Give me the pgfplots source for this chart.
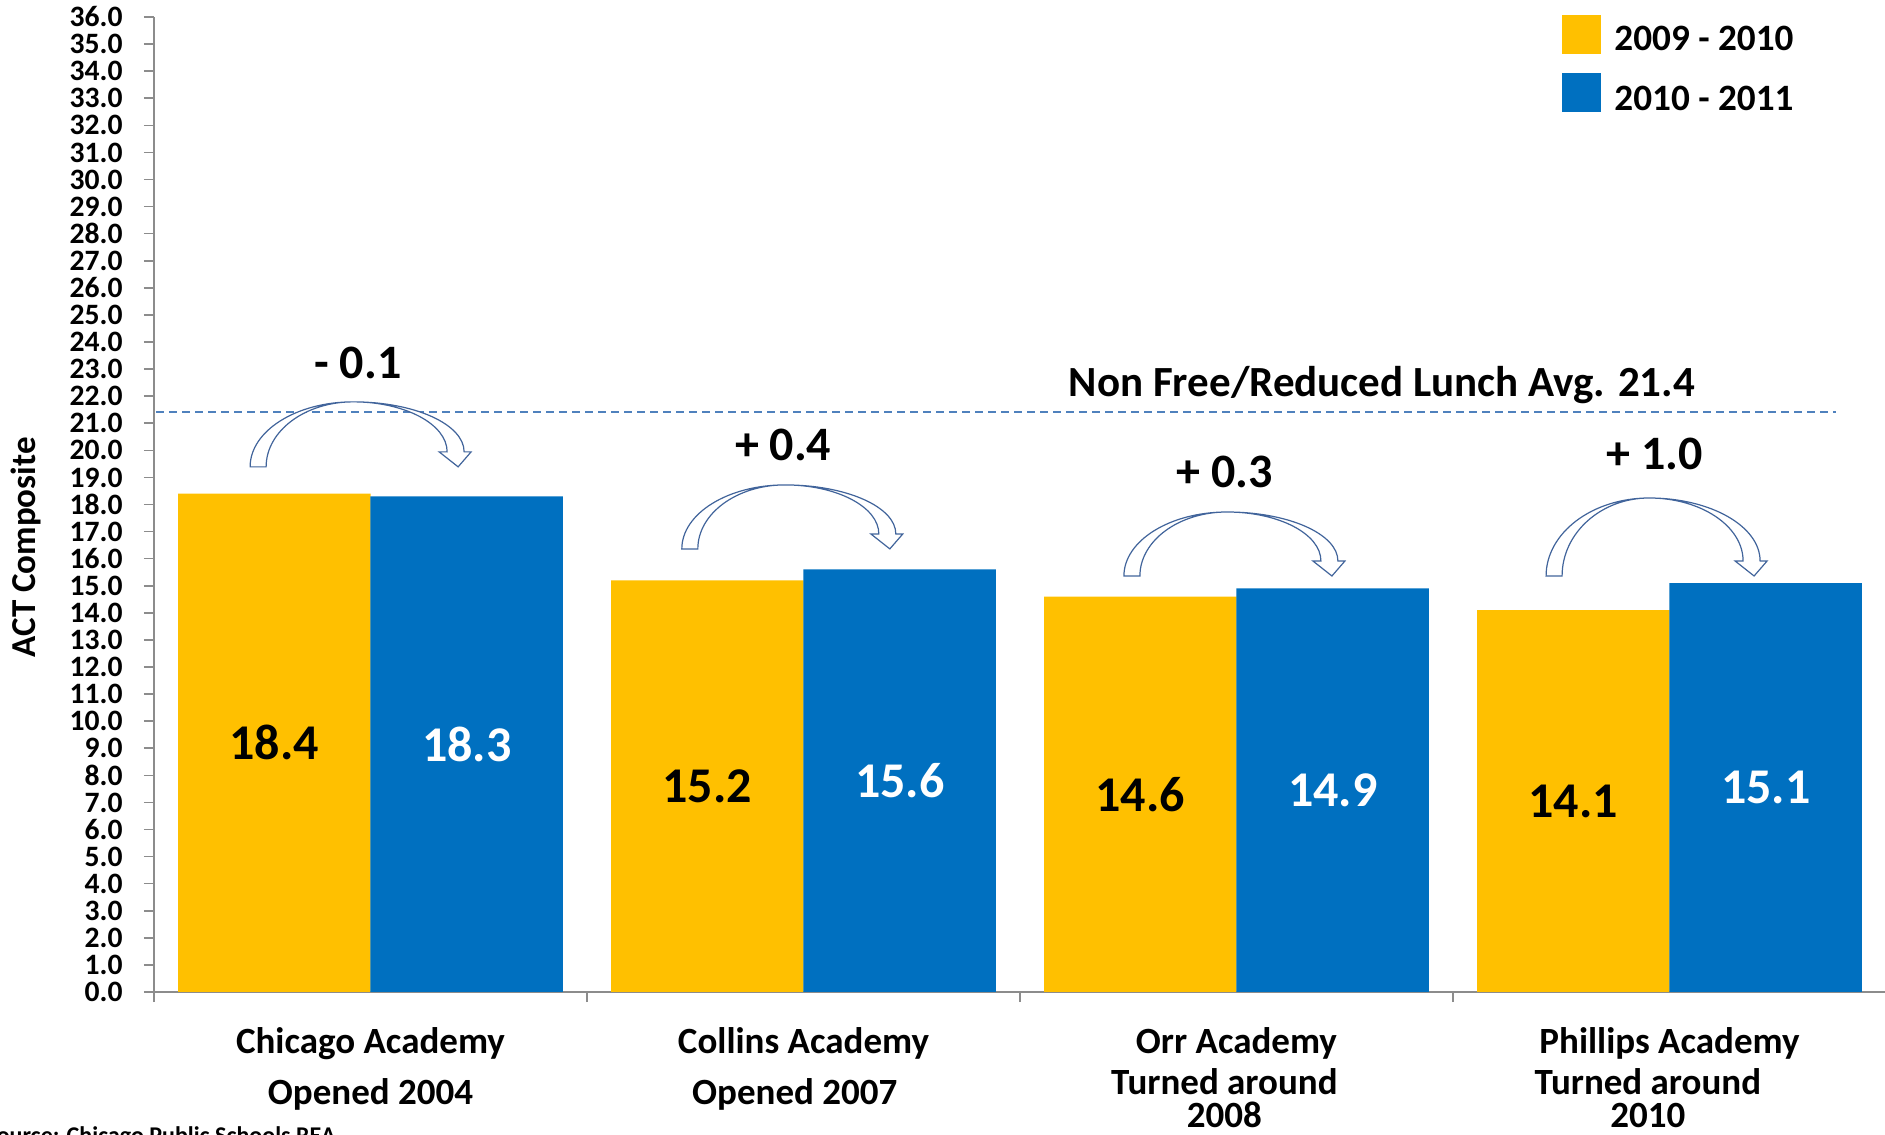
\documentclass[border=0pt]{standalone}
\usepackage{pgfplots}
\pgfplotsset{compat=1.18}
\usepackage{fontspec}
\setmainfont{Carlito}
\definecolor{cyellow}{HTML}{FFC000}
\definecolor{cblue}{HTML}{0070C0}
\definecolor{avgline}{HTML}{4F81BD}
\definecolor{arrowcol}{HTML}{41649B}
\definecolor{axisgray}{HTML}{8C8C8C}
\newcommand{\fs}[1]{\fontsize{#1}{#1}\selectfont\bfseries}
\newcommand{\curvarrow}[3]{%
  \draw[arrowcol, line width=0.6pt, fill=white, shift={(axis cs:#1,#2)}, x=0.5pt, y=0.5pt]
    (0,0) .. controls (0,{0.5523*#3}) and (46.1,#3) .. (103,#3)
    .. controls (164.3,#3) and (214,{15+0.5523*(#3-15)}) .. (214,15)
    -- (221,15) -- (208,0) -- (189,15) -- (197,15)
    .. controls (197,{15+0.5523*(#3-15)}) and (154.9,#3) .. (103,#3)
    .. controls (55,#3) and (16,{0.5523*#3}) .. (16,0) -- cycle;
}
\begin{document}
\begin{tikzpicture}
\begin{axis}[
  at={(77pt,71.5pt)}, anchor=south west,
  scale only axis, width=866pt, height=487.5pt,
  xmin=-0.5, xmax=3.5, ymin=0, ymax=36,
  axis x line*=bottom, axis y line*=left,
  axis line style={axisgray, line width=0.8pt, -},
  ytick={0,1,...,36},
  xtick={-0.5,0.5,1.5,2.5}, xticklabels={},
  tick align=outside, major tick length=5pt,
  tick style={axisgray, line width=0.8pt},
  yticklabel style={font=\fs{14.8pt}, anchor=east, inner sep=0pt, xshift=-10.5pt,
    /pgf/number format/.cd, fixed, fixed zerofill, precision=1, assume math mode=true},
  ybar, bar width=0.4445,
  clip=false,
  ylabel={ACT Composite},
  ylabel style={font=\fs{17.5pt}, at={(axis description cs:-0.074,0.456)}, anchor=center},
]
\addplot[fill=cyellow, draw=none, bar shift=-0.2222] coordinates {(0,18.4) (1,15.2) (2,14.6) (3,14.1)};
\addplot[fill=cblue, draw=none, bar shift=0.2222] coordinates {(0,18.3) (1,15.6) (2,14.9) (3,15.1)};

% value labels
\node[font=\fs{25pt}, text=black] at (axis cs:-0.2222,9.2) {18.4};
\node[font=\fs{25pt}, text=white] at (axis cs:0.2222,9.15) {18.3};
\node[font=\fs{25pt}, text=black] at (axis cs:0.7778,7.6) {15.2};
\node[font=\fs{25pt}, text=white] at (axis cs:1.2222,7.8) {15.6};
\node[font=\fs{25pt}, text=black] at (axis cs:1.7778,7.3) {14.6};
\node[font=\fs{25pt}, text=white] at (axis cs:2.2222,7.45) {14.9};
\node[font=\fs{25pt}, text=black] at (axis cs:2.7778,7.05) {14.1};
\node[font=\fs{25pt}, text=white] at (axis cs:3.2222,7.55) {15.1};

% average line
\draw[avgline, line width=1pt, dash pattern=on 4pt off 2.5pt] (axis cs:-0.495,21.4) -- (axis cs:3.385,21.4);
\node[font=\fs{21.5pt}, anchor=base, inner sep=0pt] at (axis cs:2.336,22.0) {Non Free/Reduced Lunch Avg. 21.4};

% change arrows
\curvarrow{-0.278}{19.39}{65}
\curvarrow{0.719}{16.36}{64}
\curvarrow{1.740}{15.36}{64}
\curvarrow{2.715}{15.36}{78}
\node[font=\fs{24pt}, anchor=base, inner sep=0pt] at (axis cs:-0.029,22.67) {- 0.1};
\node[font=\fs{24pt}, anchor=base, inner sep=0pt] at (axis cs:0.953,19.61) {+ 0.4};
\node[font=\fs{24pt}, anchor=base, inner sep=0pt] at (axis cs:1.973,18.61) {+ 0.3};
\node[font=\fs{24pt}, anchor=base, inner sep=0pt] at (axis cs:2.966,19.28) {+ 1.0};

% category labels
\begin{scope}[every node/.style={font=\fs{18.5pt}, anchor=base, inner sep=0pt}]
\node at (axis cs:0,-2.253) {Chicago Academy};
\node at (axis cs:0,-4.136) {Opened 2004};
\node at (axis cs:1,-2.253) {Collins Academy};
\node at (axis cs:0.98,-4.136) {Opened 2007};
\node at (axis cs:2,-2.253) {Orr Academy};
\node at (axis cs:1.972,-3.78) {Turned around};
\node at (axis cs:1.972,-5.02) {2008};
\node at (axis cs:3,-2.253) {Phillips Academy};
\node at (axis cs:2.95,-3.78) {Turned around};
\node at (axis cs:2.95,-5.02) {2010};
\end{scope}
\end{axis}

% legend
\fill[cyellow] (781pt,540.5pt) rectangle (800.5pt,560pt);
\fill[cblue] (781pt,511.5pt) rectangle (800.5pt,531pt);
\node[font=\fs{18.6pt}, anchor=base west, inner sep=0pt] at (807pt,542pt) {2009 - 2010};
\node[font=\fs{18.6pt}, anchor=base west, inner sep=0pt] at (807pt,512pt) {2010 - 2011};

% source note (cut off at the page edge as in the original)
\node[font=\fs{12pt}, anchor=base west, inner sep=0pt] at (-7.5pt,-4.25pt) {Source: Chicago Public Schools REA};

\pgfresetboundingbox
\useasboundingbox (0,0) rectangle (942.5pt,567.5pt);
\end{tikzpicture}
\end{document}
